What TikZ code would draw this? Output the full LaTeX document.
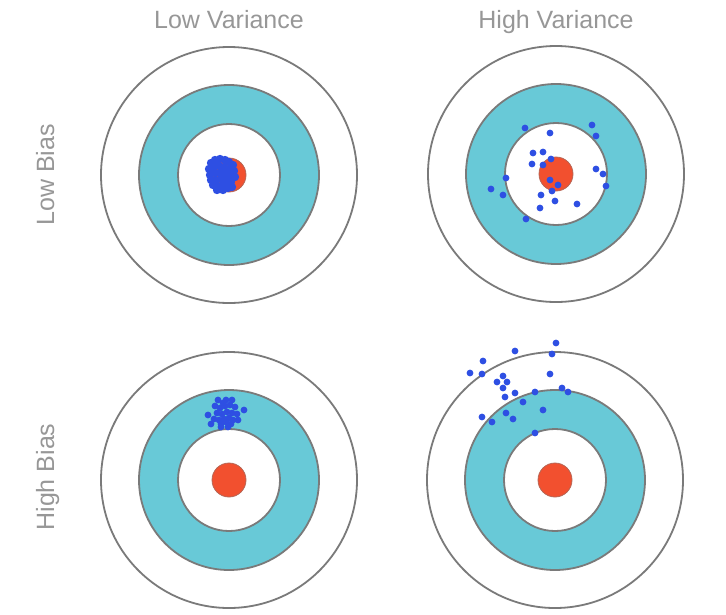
\documentclass[tikz,border=0pt]{standalone}
\usepackage{fontspec}
\setmainfont{Liberation Sans}
\definecolor{ringcyan}{HTML}{68C9D7}
\definecolor{bullred}{HTML}{F2502F}
\definecolor{shotblue}{HTML}{2E4FE3}
\definecolor{rimgray}{HTML}{7A7A7A}
\definecolor{labelgray}{HTML}{979797}
\tikzset{
  rim/.style={draw=rimgray,line width=1.8pt},
  shot/.style={fill=shotblue},
  headlabel/.style={text=labelgray,font=\fontsize{25}{30}\selectfont,anchor=base},
  sidelabel/.style={headlabel,rotate=90},
}
% one target: outer ring, cyan ring, inner ring, bull's eye
\newcommand{\dartboard}[1]{%
  \draw[rim,fill=white] (#1) circle (128);
  \draw[rim,fill=ringcyan] (#1) circle (90);
  \draw[rim,fill=white] (#1) circle (51);
  \draw[draw=rimgray!50!bullred,line width=.8pt,fill=bullred] (#1) circle (17);
}

\begin{document}
\begin{tikzpicture}[x=1pt,y=-1pt]
  \useasboundingbox (0,0) rectangle (726,614);

  \coordinate (tl) at (229,175);
  \coordinate (tr) at (556,174);
  \coordinate (bl) at (229,480);
  \coordinate (br) at (555,480);

  \node[headlabel] (lowvar) at (229,28) {Low Variance};
  \node[headlabel] (highvar) at (556,28) {High Variance};
  \node[sidelabel] (lowbias) at (54,175) {Low Bias};
  \node[sidelabel] (highbias) at (54,477) {High Bias};

  \dartboard{tl}
  \dartboard{tr}
  \dartboard{bl}
  \dartboard{br}

  % low bias, low variance
  \begin{scope}[shift={(tl)}]
    \foreach \dx/\dy in {-18/-12,-14/-15,-9/-16,-4/-15,0/-13,4/-10,-20/-6,-15/-8,
      -10/-9,-5/-8,0/-6,5/-4,-19/0,-14/-2,-9/-2,-4/-1,1/0,6/2,-18/5,-13/5,-8/4,
      -3/6,2/7,-16/10,-11/11,-6/11,-1/13,3/12,-12/15,-6/15}
      \fill[shot] (\dx,\dy) circle (4.2);
  \end{scope}

  % low bias, high variance
  \begin{scope}[shift={(tr)}]
    \foreach \dx/\dy in {-31/-46,-6/-41,36/-49,40/-38,-23/-21,-13/-22,-24/-10,
      -13/-9,-5/-15,-50/4,-65/15,-53/21,-6/6,2/11,-4/17,-15/21,-1/27,21/30,
      -16/34,-30/45,40/-5,47/0,50/12}
      \fill[shot] (\dx,\dy) circle (3.4);
  \end{scope}

  % high bias, low variance
  \begin{scope}[shift={(bl)}]
    \foreach \dx/\dy in {-21/-65,-18/-56,15/-70,9/-60,-8/-53,-1/-53,-3/-80,-11/-80,
      -14/-74,-9/-72,-4/-74,1/-75,6/-73,-12/-67,-7/-66,-2/-68,3/-67,8/-66,-15/-61,
      -10/-60,-5/-61,0/-62,4/-60,-8/-56,-3/-58,2/-56,-6/-77,3/-80}
      \fill[shot] (\dx,\dy) circle (3.4);
  \end{scope}

  % high bias, high variance
  \begin{scope}[shift={(br)}]
    \foreach \dx/\dy in {1/-137,-3/-126,-40/-129,-72/-119,-85/-107,-73/-106,
      -52/-104,-58/-98,-48/-98,-52/-92,-40/-87,-50/-83,-20/-88,-5/-106,7/-92,
      13/-88,-32/-78,-12/-70,-49/-67,-42/-61,-73/-63,-63/-58,-20/-47}
      \fill[shot] (\dx,\dy) circle (3.4);
  \end{scope}
\end{tikzpicture}
\end{document}
